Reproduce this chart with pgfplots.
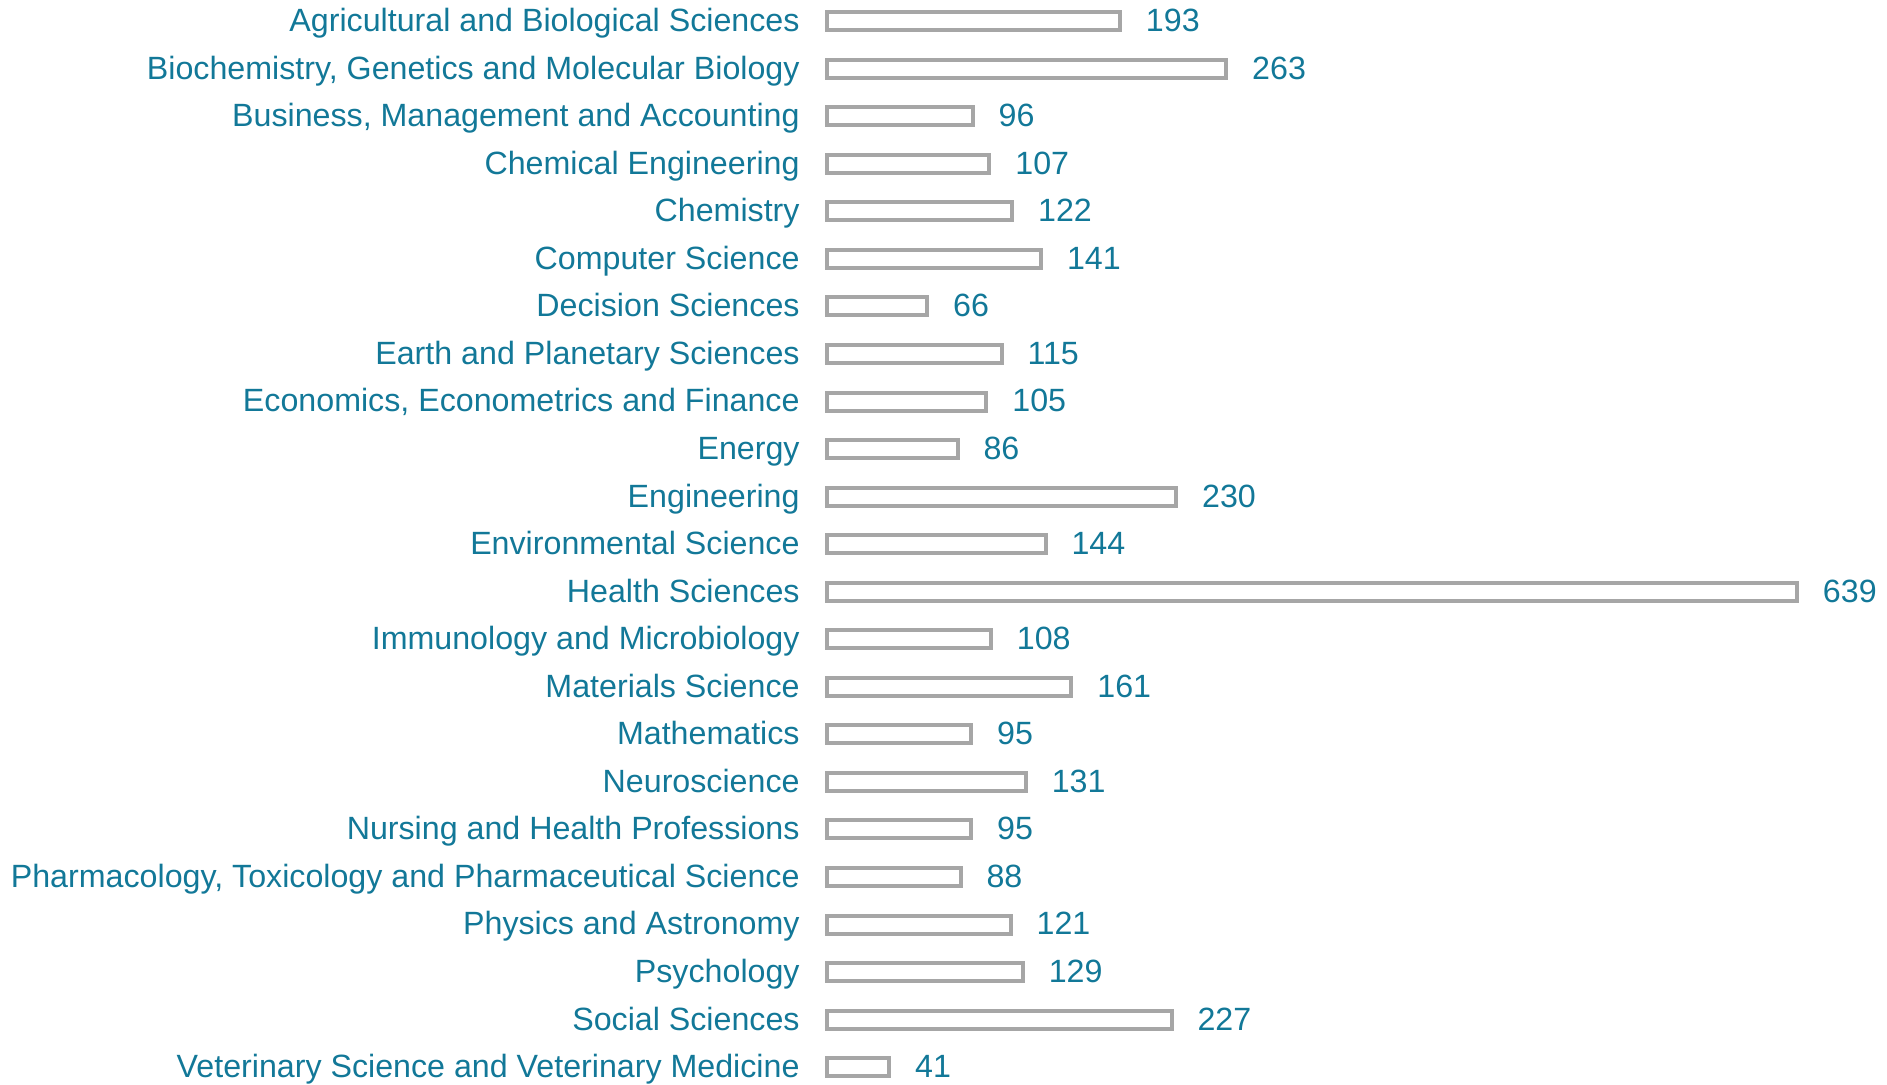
\documentclass[border=0pt]{standalone}
\usepackage{pgfplots}
\pgfplotsset{compat=1.18}
\usepackage{fontspec}
\setmainfont{Liberation Sans}
\definecolor{lab}{RGB}{18,120,152}
\definecolor{barc}{RGB}{166,166,166}
\begin{document}
\begin{tikzpicture}
\begin{axis}[
  name=ax,
  xbar,
  scale only axis,
  width=485pt, height=537.3pt,
  xmin=0, xmax=639,
  ymin=-0.3, ymax=22.3,
  y dir=reverse,
  clip=false,
  axis line style={draw=none},
  tick style={draw=none},
  major tick length=0pt,
  xtick=\empty,
  ytick={0,...,22},
  /pgf/number format/assume math mode=true,
  yticklabels={
    Agricultural and Biological Sciences,
    {Biochemistry, Genetics and Molecular Biology},
    {Business, Management and Accounting},
    Chemical Engineering,
    Chemistry,
    Computer Science,
    Decision Sciences,
    Earth and Planetary Sciences,
    {Economics, Econometrics and Finance},
    Energy,
    Engineering,
    Environmental Science,
    Health Sciences,
    Immunology and Microbiology,
    Materials Science,
    Mathematics,
    Neuroscience,
    Nursing and Health Professions,
    {Pharmacology, Toxicology and Pharmaceutical Science},
    Physics and Astronomy,
    Psychology,
    Social Sciences,
    Veterinary Science and Veterinary Medicine},
  yticklabel style={anchor=east, inner sep=0pt, xshift=-13.5pt, text=lab,
    text height=12.9pt, text depth=2.5pt,
    font=\fontsize{16.1}{19}\selectfont},
  bar width=9pt,
  nodes near coords,
  every node near coord/.append style={anchor=west, inner sep=0pt, xshift=12pt,
    text=lab, text height=12.9pt, text depth=2.5pt,
    font=\fontsize{16.1}{19}\selectfont},
]
\addplot[draw=barc, fill=white, line width=2pt] coordinates {
  (193,0) (263,1) (96,2) (107,3) (122,4) (141,5) (66,6) (115,7) (105,8)
  (86,9) (230,10) (144,11) (639,12) (108,13) (161,14) (95,15) (131,16)
  (95,17) (88,18) (121,19) (129,20) (227,21) (41,22)
};
\end{axis}
\pgfresetboundingbox
\path ([xshift=-413.5pt,yshift=-1.4pt]ax.south west) rectangle ([xshift=530pt,yshift=3.45pt]ax.north west);
\end{tikzpicture}
\end{document}
